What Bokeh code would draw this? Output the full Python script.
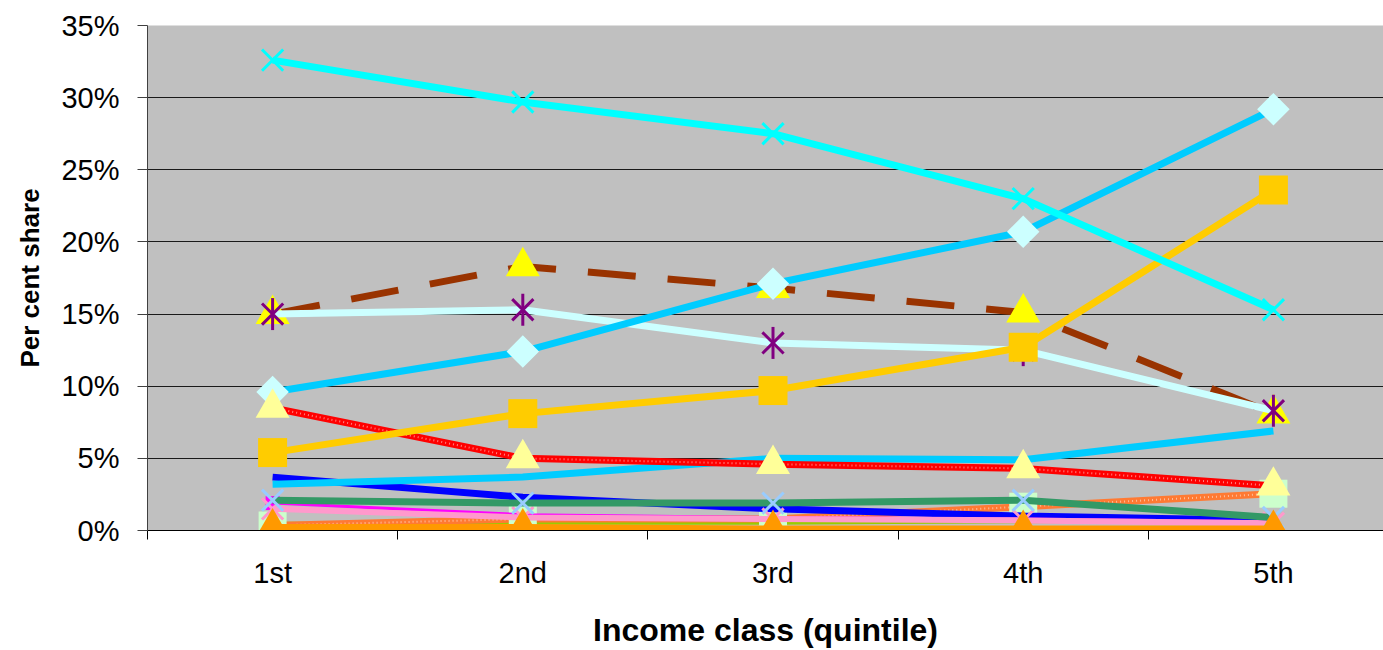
from bokeh.plotting import figure
from bokeh.models import Range1d, FixedTicker, PrintfTickFormatter
from bokeh.embed import file_html
from bokeh.resources import INLINE
import numpy as np

# ---------------- data (per cent share by income quintile) ----------------
quintiles = ["1st", "2nd", "3rd", "4th", "5th"]
xpos = [1, 2, 3, 4, 5]

s_cyan_x = [32.6, 29.7, 27.5, 23.0, 15.3]          # cyan line, X markers
s_sky_diamond = [9.6, 12.4, 17.1, 20.7, 29.2]      # sky-blue line, pale diamonds
s_brown_dash = [15.0, 18.3, 16.8, 15.1, 8.1]       # brown dashed, yellow triangles
s_pale_asterisk = [15.0, 15.3, 13.0, 12.5, 8.3]    # pale cyan line, purple asterisks
s_gold_square = [5.4, 8.1, 9.7, 12.7, 23.6]        # gold line, gold squares
s_red_triangle = [8.5, 5.0, 4.6, 4.3, 3.1]         # red patterned line, pale yellow triangles
s_sky_plain = [3.2, 3.7, 5.0, 4.9, 6.9]            # sky-blue line
s_blue = [3.7, 2.3, 1.5, 1.0, 0.7]                 # blue line
s_green_x = [2.1, 1.9, 1.9, 2.1, 0.9]              # sea-green line, light blue X
s_magenta = [1.9, 1.1, 0.9, 0.8, 0.6]              # magenta line, magenta square
s_pink_x = [1.5, 0.9, 0.8, 0.7, 0.5]               # pink line, pink X
s_orange_sq = [0.35, 0.8, 0.8, 1.65, 2.55]         # orange patterned line, pale green squares
s_olive = [0.5, 0.5, 0.5, 0.6, 0.6]                # yellow-green line
s_orange_tri = [0.2, 0.2, 0.1, 0.1, 0.1]           # orange line, orange triangles

y_ticks = [0, 5, 10, 15, 20, 25, 30, 35]

FONT = "Liberation Sans"

p = figure(width=1383, height=650, output_backend="svg", toolbar_location=None,
           x_range=Range1d(0.5, 5.44), y_range=Range1d(0, 35),
           min_border_left=147, min_border_right=0, min_border_top=25,
           min_border_bottom=120,
           background_fill_color="#C0C0C0", border_fill_color="white")
p.outline_line_color = None
p.xgrid.visible = False
p.ygrid.grid_line_color = "#1a1a1a"
p.ygrid.grid_line_width = 1

# y axis
p.yaxis.ticker = FixedTicker(ticks=y_ticks)
p.yaxis.formatter = PrintfTickFormatter(format="%d%%")
p.yaxis.major_tick_out = 10
p.yaxis.major_tick_in = 0
p.yaxis.minor_tick_line_color = None
p.yaxis.axis_line_color = "#404040"
p.yaxis.major_tick_line_color = "#404040"
p.yaxis.major_label_standoff = 18
p.yaxis.major_label_text_font = FONT
p.yaxis.major_label_text_font_size = "29px"
p.yaxis.major_label_text_color = "black"
p.yaxis.axis_label = "Per cent share"
p.yaxis.axis_label_text_font = FONT
p.yaxis.axis_label_text_font_style = "bold"
p.yaxis.axis_label_text_font_size = "26px"
p.yaxis.axis_label_text_color = "black"
p.yaxis.axis_label_standoff = 13

# x axis
p.xaxis.ticker = FixedTicker(ticks=xpos, minor_ticks=[0.5, 1.5, 2.5, 3.5, 4.5, 5.5])
p.xaxis.major_label_overrides = {x: q for x, q in zip(xpos, quintiles)}
p.xaxis.major_tick_out = 0
p.xaxis.major_tick_in = 0
p.xaxis.minor_tick_out = 9
p.xaxis.minor_tick_in = 0
p.xaxis.minor_tick_line_color = "black"
p.xaxis.axis_line_color = "black"
p.xaxis.major_label_standoff = 17
p.xaxis.major_label_text_font = FONT
p.xaxis.major_label_text_font_size = "29px"
p.xaxis.major_label_text_color = "black"
p.xaxis.axis_label = "Income class (quintile)"
p.xaxis.axis_label_text_font = FONT
p.xaxis.axis_label_text_font_style = "bold"
p.xaxis.axis_label_text_font_size = "32px"
p.xaxis.axis_label_text_color = "black"
p.xaxis.axis_label_standoff = 20

# ---------------- series (drawing order = stacking order) ----------------
# yellow-green
p.line(xpos, s_olive, line_color="#99CC00", line_width=3)
# orange patterned line + pale green squares
p.line(xpos, s_orange_sq, line_color="#FF7A33", line_width=7)
p.line(xpos, s_orange_sq, line_color="white", line_width=2, line_dash="1 3", line_alpha=0.5)
p.scatter(xpos, s_orange_sq, marker="square", size=28, fill_color="#CCFFCC", line_color=None)
# blue
p.line(xpos, s_blue, line_color="#0000FF", line_width=7)
# magenta
p.line(xpos, s_magenta, line_color="#FF00FF", line_width=3)
p.scatter(xpos[:1], s_magenta[:1], marker="square", size=14, fill_color="#FF00FF", line_color=None)
# pink + pink X
p.line(xpos, s_pink_x, line_color="#FF99CC", line_width=6)
p.scatter(xpos, s_pink_x, marker="x", size=30, line_color="#FF99CC", line_width=3)
# sea green + light blue X
p.line(xpos, s_green_x, line_color="#339966", line_width=7)
p.scatter(xpos, s_green_x, marker="x", size=30, line_color="#99CCFF", line_width=3)
# sky-blue plain
p.line(xpos, s_sky_plain, line_color="#00CCFF", line_width=7)
# brown dashed + yellow triangles
p.line(xpos, s_brown_dash, line_color="#993300", line_width=7, line_dash="48 32")
p.scatter(xpos, s_brown_dash, marker="triangle", size=34, fill_color="#FFFF00", line_color=None)
# pale cyan + purple asterisks
p.line(xpos, s_pale_asterisk, line_color="#CCFFFF", line_width=7)
p.scatter(xpos, s_pale_asterisk, marker="x", size=30, line_color="#800080", line_width=3)
p.scatter(xpos, s_pale_asterisk, marker="dash", size=32, angle=np.pi / 2,
          line_color="#800080", line_width=3)
# sky-blue + pale diamonds
p.line(xpos, s_sky_diamond, line_color="#00CCFF", line_width=7)
p.scatter(xpos, s_sky_diamond, marker="square", size=23, angle=np.pi / 4,
          fill_color="#CCFFFF", line_color=None)
# red patterned + pale yellow triangles
p.line(xpos, s_red_triangle, line_color="#FF0000", line_width=7)
p.line(xpos, s_red_triangle, line_color="white", line_width=2, line_dash="1 3", line_alpha=0.5)
p.scatter(xpos, s_red_triangle, marker="triangle", size=34, fill_color="#FFFF99", line_color=None)
# gold + squares
p.line(xpos, s_gold_square, line_color="#FFCC00", line_width=7)
p.scatter(xpos, s_gold_square, marker="square", size=29, fill_color="#FFCC00", line_color=None)
# cyan + X
p.line(xpos, s_cyan_x, line_color="#00FFFF", line_width=7)
p.scatter(xpos, s_cyan_x, marker="x", size=30, line_color="#00FFFF", line_width=3)
# orange + triangles
p.line(xpos, s_orange_tri, line_color="#FF9900", line_width=7)
p.scatter(xpos, s_orange_tri, marker="triangle", size=34, fill_color="#FF9900", line_color=None)

open("out.html", "w").write(file_html(p, INLINE))
